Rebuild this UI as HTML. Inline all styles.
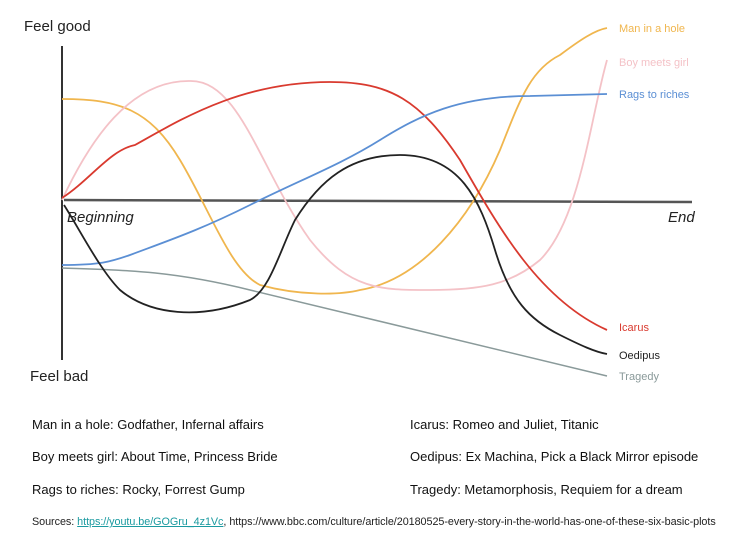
<!DOCTYPE html>
<html><head><meta charset="utf-8"><style>
html,body{margin:0;padding:0;background:#fff;}
body{width:753px;height:537px;position:relative;overflow:hidden;font-family:"Liberation Sans",sans-serif;}
.t{position:absolute;font-size:13px;color:#111;white-space:nowrap;}
.s{position:absolute;font-size:10.8px;color:#222;white-space:nowrap;left:32px;top:516px;letter-spacing:-0.05px;}
.s a{color:#1a9aa0;text-decoration:underline;}
</style></head><body>
<svg width="753" height="400" style="position:absolute;left:0;top:0" font-family="Liberation Sans, sans-serif">
<line x1="62" y1="46" x2="62" y2="360" stroke="#333" stroke-width="2"/>
<line x1="64" y1="200" x2="692" y2="202" stroke="#555" stroke-width="2.5"/>
<g fill="none" stroke-width="1.8">
<path d="M62,99 C120,99 150,110 180,160 S230,270 260,285 C300,296 340,295 360,290 C420,280 470,220 500,150 C520,100 530,70 560,55 C580,40 595,30 607,28" stroke="#f0b64e"/>
<path d="M62,200 C90,140 130,80 190,81 C240,80 260,170 310,240 C350,290 380,290 430,290 C480,290 510,285 540,260 C580,220 590,120 607,60" stroke="#f4c2c7"/>
<path d="M62,198 C90,180 110,150 135,145 C180,120 240,82 330,82 C390,82 420,100 460,160 C500,230 540,300 607,330" stroke="#d93a2f"/>
<path d="M62,265 C100,265 110,262 130,255 C170,240 200,230 250,205 C300,180 340,165 380,140 C420,115 460,96 530,96 L607,94" stroke="#5b8fd4"/>
<path d="M62,268 C120,270 170,270 250,290 L607,376" stroke="#8a9a9a" stroke-width="1.5"/>
<path d="M64,205 C80,230 100,270 120,290 C150,315 200,320 250,300 C270,290 280,250 295,220 C320,180 350,155 400,155 C460,155 480,200 495,250 C510,300 530,320 560,335 C580,345 595,352 607,354" stroke="#222"/>
</g>
<text x="24" y="31" font-size="15" fill="#222">Feel good</text>
<text x="30" y="381" font-size="15" fill="#222">Feel bad</text>
<text x="67" y="222" font-size="15" font-style="italic" fill="#222">Beginning</text>
<text x="668" y="222" font-size="15" font-style="italic" fill="#222">End</text>
<g font-size="11">
<text x="619" y="32" fill="#f0b64e">Man in a hole</text>
<text x="619" y="66" fill="#f4c2c7">Boy meets girl</text>
<text x="619" y="98" fill="#5b8fd4">Rags to riches</text>
<text x="619" y="331" fill="#d93a2f">Icarus</text>
<text x="619" y="359" fill="#222">Oedipus</text>
<text x="619" y="380" fill="#8a9a9a">Tragedy</text>
</g>
</svg>
<div class="t" style="left:32px;top:417px">Man in a hole: Godfather, Infernal affairs</div>
<div class="t" style="left:32px;top:449px">Boy meets girl: About Time, Princess Bride</div>
<div class="t" style="left:32px;top:482px">Rags to riches: Rocky, Forrest Gump</div>
<div class="t" style="left:410px;top:417px">Icarus: Romeo and Juliet, Titanic</div>
<div class="t" style="left:410px;top:449px">Oedipus: Ex Machina, Pick a Black Mirror episode</div>
<div class="t" style="left:410px;top:482px">Tragedy: Metamorphosis, Requiem for a dream</div>
<div class="s">Sources: <a>https://youtu.be/GOGru_4z1Vc</a>, https://www.bbc.com/culture/article/20180525-every-story-in-the-world-has-one-of-these-six-basic-plots</div>
</body></html>
